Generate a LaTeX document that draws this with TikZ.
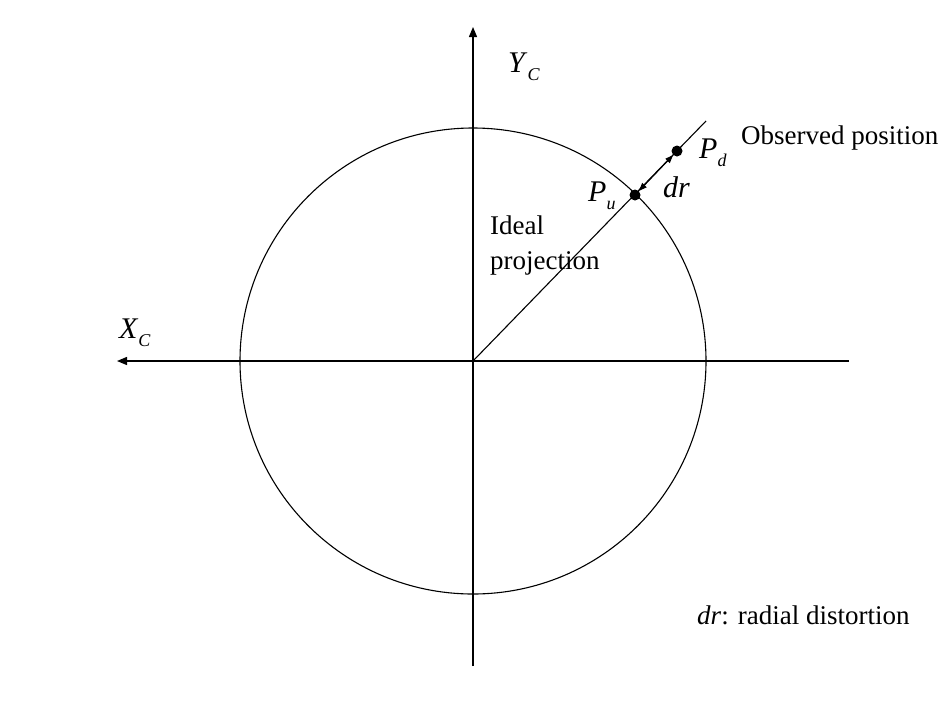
\documentclass[tikz,border=0pt]{standalone}
\usepackage{fontspec}
\setmainfont{Liberation Serif}
\usetikzlibrary{arrows.meta}
\newcommand{\symlbl}[2]{\fontsize{30}{34}\selectfont\textit{#1}\raisebox{-8pt}{\fontsize{18}{18}\selectfont\textit{#2}}}
\begin{document}
\begin{tikzpicture}[x=1pt,y=-1pt,
  line/.style={line width=1.1pt, black},
  axisarrow/.style={line, line width=1.3pt, -{Triangle[length=10pt,width=8pt]}},
  dot/.style={circle, fill=black, minimum size=11pt, inner sep=0pt},
  txt/.style={font=\fontsize{27}{35}\selectfont, inner sep=0pt, anchor=base west, align=left},
  sym/.style={inner sep=0pt, anchor=base west}]
\useasboundingbox (0,0) rectangle (947,702);
\fill[white] (0,0) rectangle (947,702);
% axes
\coordinate (O) at (473,361);
\coordinate (xr) at (849,361);
\coordinate (xl) at (117,361);
\coordinate (yb) at (473,666);
\coordinate (yt) at (473,27);
\draw[axisarrow] (xr) -- (xl);
\draw[axisarrow] (yb) -- (yt);
% circle
\draw[line] (O) circle[radius=233];
% radial line
\coordinate (E) at (706,121);
\draw[line] (O) -- (E);
% points
\node[dot] (Pu) at (635,195) {};
\node[dot] (Pd) at (677,151) {};
\draw[line, line width=1.1pt, {Triangle[length=8pt,width=6pt]}-{Triangle[length=8pt,width=6pt]}] (Pu) -- (Pd);
% labels
\node[sym] (lY) at (508,72) {\symlbl{Y}{C}};
\node[sym] (lX) at (119,338) {\symlbl{X}{C}};
\node[sym] (lPd) at (699,158) {\symlbl{P}{d}};
\node[sym] (lPu) at (588,201) {\symlbl{P}{u}};
\node[sym] (ldr) at (663,197) {\fontsize{30}{34}\selectfont\textit{dr}};
\node[txt] (obs) at (741,144) {Observed position};
\node[txt] (ideal) at (490,269) {Ideal\\projection};
\node[txt] (legend) at (697,624) {\textit{dr}: radial distortion};
\end{tikzpicture}
\end{document}
